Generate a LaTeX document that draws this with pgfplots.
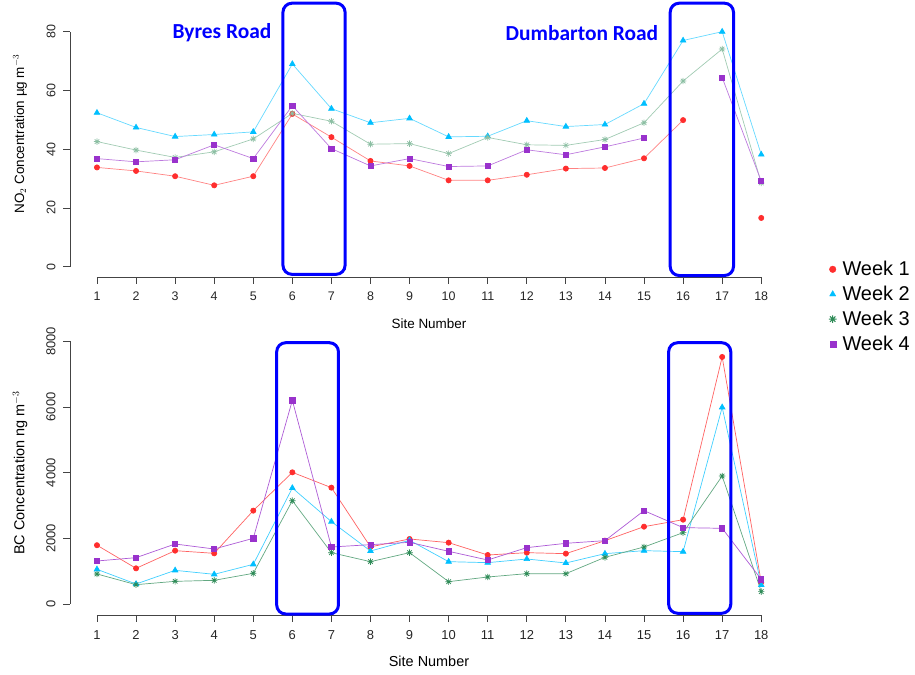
\documentclass[border=0pt]{standalone}
\usepackage{fontspec}
\setmainfont{Liberation Sans}
\newfontfamily\calibri{Carlito}
\usepackage{pgfplots}
\usepackage{pgfplotstable}
\pgfplotsset{compat=1.18}

\definecolor{wkred}{HTML}{FF2E2E}
\definecolor{wkblue}{HTML}{00BFFF}
\definecolor{wkgreen}{HTML}{2E8B57}
\definecolor{wkpurple}{HTML}{9932CC}
\definecolor{axisgray}{HTML}{444444}
\definecolor{roadblue}{HTML}{0000FF}

% R's pch=8: plus overlaid with a cross
\pgfdeclareplotmark{rstar}{%
  \pgfpathmoveto{\pgfqpoint{-\pgfplotmarksize}{0pt}}%
  \pgfpathlineto{\pgfqpoint{\pgfplotmarksize}{0pt}}%
  \pgfpathmoveto{\pgfqpoint{0pt}{-\pgfplotmarksize}}%
  \pgfpathlineto{\pgfqpoint{0pt}{\pgfplotmarksize}}%
  \pgfpathmoveto{\pgfqpoint{-.707\pgfplotmarksize}{-.707\pgfplotmarksize}}%
  \pgfpathlineto{\pgfqpoint{.707\pgfplotmarksize}{.707\pgfplotmarksize}}%
  \pgfpathmoveto{\pgfqpoint{-.707\pgfplotmarksize}{.707\pgfplotmarksize}}%
  \pgfpathlineto{\pgfqpoint{.707\pgfplotmarksize}{-.707\pgfplotmarksize}}%
  \pgfusepathqstroke}

% NO2, ug/m3
\pgfplotstableread{
site w1 w2 w3 w4
1 33.8 52.4 42.6 36.8
2 32.6 47.4 39.7 35.7
3 30.8 44.3 37.2 36.4
4 27.7 45.0 39.1 41.5
5 30.8 45.9 43.5 36.8
6 52.0 69.0 52.2 54.8
7 44.1 53.8 49.5 40.2
8 36.0 49.0 41.7 34.3
9 34.3 50.5 41.9 36.8
10 29.4 44.2 38.5 34.1
11 29.4 44.4 44.0 34.3
12 31.3 49.7 41.5 39.8
13 33.4 47.7 41.3 38.1
14 33.6 48.4 43.3 40.8
15 36.9 55.5 49.0 43.8
16 49.9 77.0 63.2 nan
17 nan 80.0 74.1 64.4
18 16.6 38.2 28.5 29.1
}\notwo

% BC, ng/m3
\pgfplotstableread{
site w1 w2 w3 w4
1 1790 1056 914 1310
2 1086 609 589 1411
3 1624 1025 690 1827
4 1543 904 721 1675
5 2843 1208 934 2000
6 4010 3533 3147 6203
7 3543 2508 1563 1736
8 1740 1614 1289 1807
9 1980 1940 1563 1878
10 1868 1289 680 1604
11 1492 1259 822 1340
12 1563 1370 924 1716
13 1533 1249 924 1848
14 1929 1533 1421 1929
15 2355 1624 1736 2843
16 2568 1594 2173 2325
17 7523 5990 3898 2305
18 660 579 376 751
}\bctab

\tikzset{
  roadbox/.style={draw=roadblue, line width=3bp, rounded corners=9bp},
  axline/.style={axisgray, line width=0.8bp},
}

\pgfplotsset{
  rplot/.style={
    scale only axis, width=717.4bp,
    xmin=0.32, xmax=18.68,
    xtick={1,...,18},
    axis x line*=bottom, axis y line*=left,
    axis line style={draw=none},
    tick align=outside, major tick length=7bp,
    tick style={color=axisgray, line width=0.8bp},
    unbounded coords=jump,
    clip=false,
    /pgf/number format/assume math mode=true,
    /pgf/number format/1000 sep={},
    xticklabel style={inner sep=0pt, yshift=-8bp, text=black!85},
    yticklabel style={rotate=90, anchor=south, inner sep=0pt, outer sep=8bp, text=black!85},
  },
  l1/.style={draw=wkred!75, line width=0.7bp, mark=*, mark size=2.6bp, mark options={draw=wkred, fill=wkred}},
  l2/.style={draw=wkblue!75, line width=0.7bp, mark=triangle*, mark size=3.2bp, mark options={draw=wkblue, fill=wkblue}},
  l3/.style={draw=wkgreen!75, line width=0.7bp, mark=rstar, mark size=3.2bp, mark options={draw=wkgreen}},
  l4/.style={draw=wkpurple!80, line width=0.7bp, mark=square*, mark size=2.6bp, mark options={draw=wkpurple, fill=wkpurple}},
}

\begin{document}
\begin{tikzpicture}[x=1bp, y=1bp]
\useasboundingbox (0,0) rectangle (915,675);

% ---------- NO2 ----------
\begin{axis}[rplot,
  at={(70.4bp,398bp)}, anchor=south west,
  height=254.7bp,
  ymin=-3.5, ymax=83.2,
  ytick={0,20,...,80},
  ticklabel style={font=\fontsize{12.5}{14}\selectfont},
  l1/.append style={draw=wkred!60},
  l2/.append style={draw=wkblue!60},
  l3/.append style={draw=wkgreen!45, mark options={draw=wkgreen!55}},
  l4/.append style={draw=wkpurple!65},
  legend style={at={(1.057,0.07)}, anchor=north west, draw=none, fill=none,
    font=\fontsize{20}{23}\selectfont, row sep=5bp, inner sep=0pt,
    /tikz/every odd column/.append style={column sep=4bp}},
  legend cell align=left,
  legend image code/.code={\draw[#1] plot coordinates {(4bp,0bp)};},
]
\addplot[l1, forget plot] table[x=site, y=w1] {\notwo};
\addplot[l2, forget plot] table[x=site, y=w2] {\notwo};
\addplot[l3, forget plot] table[x=site, y=w3] {\notwo};
\addplot[l4, forget plot] table[x=site, y=w4] {\notwo};

\addlegendimage{only marks, mark=*, mark size=3.3bp, draw=wkred, fill=wkred}
\addlegendimage{only marks, mark=triangle*, mark size=3.6bp, draw=wkblue, fill=wkblue}
\addlegendimage{only marks, mark=rstar, mark size=3.8bp, draw=wkgreen, line width=1bp}
\addlegendimage{only marks, mark=square*, mark size=3bp, draw=wkpurple, fill=wkpurple}
\legend{Week 1, Week 2, Week 3, Week 4}

\draw[axline] (axis cs:1,-3.5) -- (axis cs:18,-3.5);
\draw[axline] (axis cs:0.32,0) -- (axis cs:0.32,80);

\draw[roadbox] (axis cs:5.76,-2.6) rectangle (axis cs:7.35,89.7);
\draw[roadbox] (axis cs:15.67,-3.0) rectangle (axis cs:17.29,89.7);
\node[text=roadblue, font=\calibri\bfseries\fontsize{21.5}{24}\selectfont] at (axis cs:4.2,79.5) {Byres Road};
\node[text=roadblue, font=\calibri\bfseries\fontsize{21.5}{24}\selectfont] at (axis cs:13.41,79.5) {Dumbarton Road};
\end{axis}

% ---------- BC ----------
\begin{axis}[rplot,
  at={(70.4bp,60bp)}, anchor=south west,
  height=284.2bp,
  ymin=-335, ymax=8320,
  ytick={0,2000,...,8000},
  scaled y ticks=false,
  ticklabel style={font=\fontsize{13}{15}\selectfont},
]
\addplot[l1] table[x=site, y=w1] {\bctab};
\addplot[l2] table[x=site, y=w2] {\bctab};
\addplot[l3] table[x=site, y=w3] {\bctab};
\addplot[l4] table[x=site, y=w4] {\bctab};

\draw[axline] (axis cs:1,-335) -- (axis cs:18,-335);
\draw[axline] (axis cs:0.32,0) -- (axis cs:0.32,8000);

\draw[roadbox] (axis cs:5.6,-305) rectangle (axis cs:7.18,7957);
\draw[roadbox] (axis cs:15.63,-283) rectangle (axis cs:17.22,7957);
\end{axis}

% axis titles
\node[rotate=90, font=\fontsize{13.5}{16}\selectfont] at (20,541) {NO$_2$ Concentration µg m$^{-3}$};
\node[font=\fontsize{13.5}{16}\selectfont] at (429,351) {Site Number};
\node[rotate=90, font=\fontsize{14.5}{17}\selectfont] at (20,202) {BC Concentration ng m$^{-3}$};
\node[font=\fontsize{14.5}{17}\selectfont] at (429,14) {Site Number};
\end{tikzpicture}
\end{document}
